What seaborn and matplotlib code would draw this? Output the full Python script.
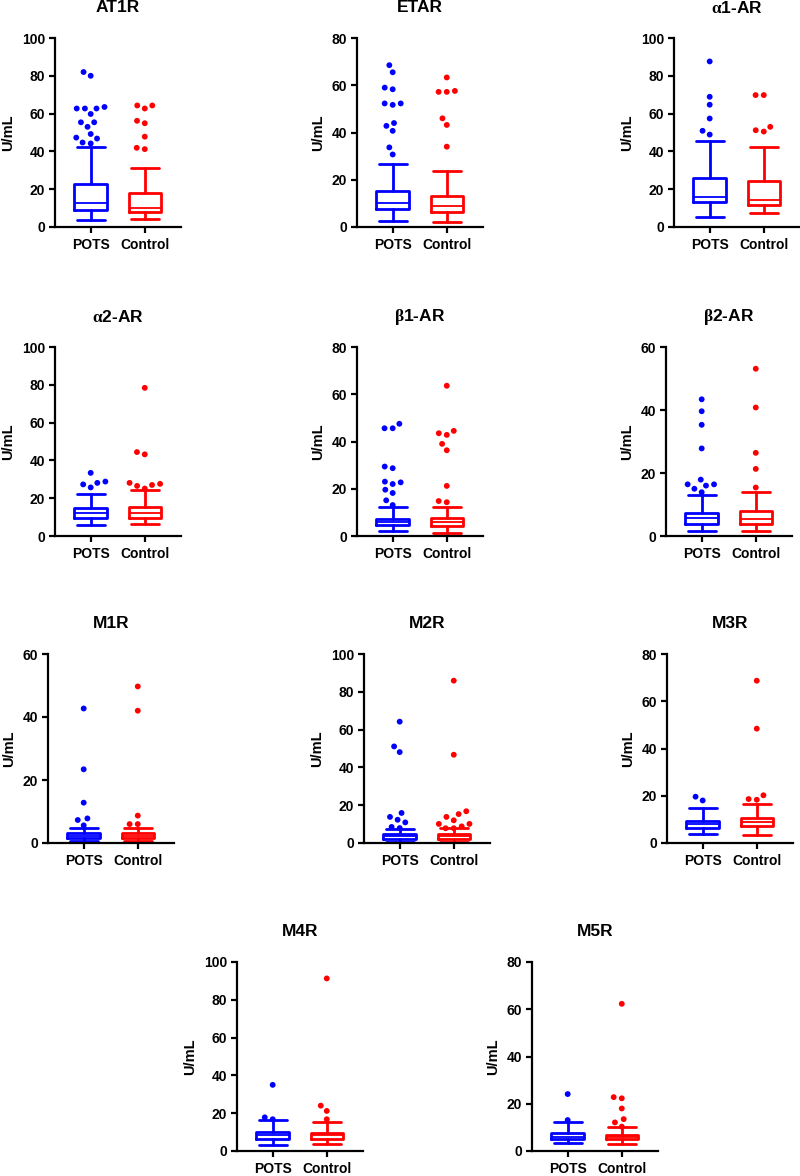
import numpy as np
import pandas as pd
import matplotlib
matplotlib.use("Agg")
import matplotlib.pyplot as plt
import seaborn as sns

sns.set_style("ticks")
plt.rcParams["font.family"] = ["Liberation Sans", "DejaVu Sans"]
plt.rcParams["font.weight"] = "bold"
plt.rcParams["axes.labelweight"] = "bold"
for k in ["text.color", "axes.labelcolor", "xtick.color", "ytick.color", "axes.edgecolor"]:
    plt.rcParams[k] = "black"
plt.rcParams["mathtext.fontset"] = "custom"
plt.rcParams["mathtext.rm"] = "Liberation Serif"

GROUPS = ["POTS", "Control"]
COLORS = {"POTS": "#0000FF", "Control": "#FF0000"}

# box stats: [whisker low, Q1, median, Q3, whisker high]
AT1R_POTS_box = [3.5, 9.2, 12.9, 22.5, 42.5]
AT1R_POTS_out = [82.0, 80.0, 63.5, 62.7, 62.7, 62.7, 59.8, 55.4, 55.4, 53.0, 49.2, 47.3, 46.8, 44.7, 44.2]
AT1R_CTRL_box = [4.1, 8.0, 10.3, 18.2, 31.3]
AT1R_CTRL_out = [64.3, 62.7, 64.3, 56.2, 54.9, 47.8, 41.2, 41.9]

ETAR_POTS_box = [2.5, 7.8, 10.0, 15.3, 26.5]
ETAR_POTS_out = [68.5, 65.5, 59.0, 58.3, 52.3, 52.3, 51.7, 44.0, 42.8, 40.7, 33.7, 30.7]
ETAR_CTRL_box = [2.1, 6.4, 8.9, 13.0, 23.8]
ETAR_CTRL_out = [63.3, 57.6, 57.2, 57.2, 46.0, 43.2, 34.0]

A1AR_POTS_box = [5.3, 13.2, 16.1, 25.8, 45.6]
A1AR_POTS_out = [87.6, 68.9, 64.7, 57.4, 48.9, 50.9]
A1AR_CTRL_box = [7.2, 11.5, 14.1, 24.2, 42.2]
A1AR_CTRL_out = [69.8, 69.8, 50.5, 53.0, 51.2]

A2AR_POTS_box = [5.6, 9.5, 12.1, 14.7, 22.3]
A2AR_POTS_out = [25.7, 28.8, 33.4, 27.3, 28.1]
A2AR_CTRL_box = [6.5, 9.5, 12.3, 15.3, 24.6]
A2AR_CTRL_out = [78.4, 44.4, 43.2, 26.5, 28.1, 27.0, 27.6, 25.1]

B1AR_POTS_box = [2.0, 4.5, 5.9, 7.3, 12.3]
B1AR_POTS_out = [47.5, 45.6, 45.6, 28.7, 29.4, 23.0, 22.0, 22.7, 18.2, 19.6, 15.1, 13.1]
B1AR_CTRL_box = [1.3, 4.1, 5.9, 7.6, 12.3]
B1AR_CTRL_out = [63.6, 44.5, 42.8, 43.5, 39.0, 36.3, 21.2, 14.3, 14.8]

B2AR_POTS_box = [1.7, 3.9, 5.7, 7.4, 12.9]
B2AR_POTS_out = [43.4, 39.6, 35.3, 27.8, 17.9, 16.4, 16.0, 16.4, 15.0, 13.9]
B2AR_CTRL_box = [1.7, 3.7, 5.3, 7.8, 14.0]
B2AR_CTRL_out = [53.1, 40.8, 26.4, 21.3, 15.4]

M1R_POTS_box = [0.7, 1.5, 2.2, 3.2, 4.8]
M1R_POTS_out = [42.7, 23.4, 12.8, 7.8, 7.3, 5.6]
M1R_CTRL_box = [0.5, 1.5, 2.3, 3.2, 4.9]
M1R_CTRL_out = [49.7, 42.0, 8.7, 6.0, 6.0]

M2R_POTS_box = [0.7, 2.1, 3.5, 4.9, 7.4]
M2R_POTS_out = [64.2, 51.1, 48.1, 13.8, 10.9, 15.9, 12.3, 7.9, 8.5]
M2R_CTRL_box = [0.7, 2.1, 3.5, 4.9, 7.8]
M2R_CTRL_out = [85.9, 46.7, 16.8, 15.3, 13.8, 12.0, 10.1, 10.1, 7.8, 8.8, 7.8]

M3R_POTS_box = [3.9, 6.2, 8.0, 9.4, 15.0]
M3R_POTS_out = [18.0, 19.6]
M3R_CTRL_box = [3.4, 7.1, 8.9, 10.6, 16.4]
M3R_CTRL_out = [68.7, 48.4, 20.2, 18.3, 18.6]

M4R_POTS_box = [3.4, 6.2, 8.5, 9.9, 16.6]
M4R_POTS_out = [35.0, 16.8, 17.8]
M4R_CTRL_box = [3.5, 6.5, 8.5, 9.7, 15.4]
M4R_CTRL_out = [91.3, 24.0, 21.2, 16.8]

M5R_POTS_box = [3.2, 5.1, 6.0, 7.7, 12.3]
M5R_POTS_out = [24.1, 13.1]
M5R_CTRL_box = [3.0, 4.9, 6.1, 6.9, 10.0]
M5R_CTRL_out = [62.3, 22.8, 22.3, 18.0, 13.5, 12.1, 10.3]

TITLES = ["AT1R", "ETAR", r"$\mathrm{α}$1-AR", r"$\mathrm{α}$2-AR",
          r"$\mathrm{β}$1-AR", r"$\mathrm{β}$2-AR",
          "M1R", "M2R", "M3R", "M4R", "M5R"]
YMAX = [100, 80, 100, 100, 80, 60, 60, 100, 80, 100, 80]
DATA = [
    (AT1R_POTS_box, AT1R_POTS_out, AT1R_CTRL_box, AT1R_CTRL_out),
    (ETAR_POTS_box, ETAR_POTS_out, ETAR_CTRL_box, ETAR_CTRL_out),
    (A1AR_POTS_box, A1AR_POTS_out, A1AR_CTRL_box, A1AR_CTRL_out),
    (A2AR_POTS_box, A2AR_POTS_out, A2AR_CTRL_box, A2AR_CTRL_out),
    (B1AR_POTS_box, B1AR_POTS_out, B1AR_CTRL_box, B1AR_CTRL_out),
    (B2AR_POTS_box, B2AR_POTS_out, B2AR_CTRL_box, B2AR_CTRL_out),
    (M1R_POTS_box, M1R_POTS_out, M1R_CTRL_box, M1R_CTRL_out),
    (M2R_POTS_box, M2R_POTS_out, M2R_CTRL_box, M2R_CTRL_out),
    (M3R_POTS_box, M3R_POTS_out, M3R_CTRL_box, M3R_CTRL_out),
    (M4R_POTS_box, M4R_POTS_out, M4R_CTRL_box, M4R_CTRL_out),
    (M5R_POTS_box, M5R_POTS_out, M5R_CTRL_box, M5R_CTRL_out),
]

# layout (pixels): left edge of axes, top edge of axes
W, H = 800, 1176
AX_W, AX_H = 126, 189
POS = [(55, 38), (357, 38), (674, 38),
       (55, 347), (357, 347), (666, 347),
       (48, 654), (364, 654), (667, 654),
       (237, 962), (532, 962)]

fig = plt.figure(figsize=(W / 100, H / 100), dpi=100)

for title, ymax, (pb, po, cb, co), (lx, ty) in zip(TITLES, YMAX, DATA, POS):
    ax = fig.add_axes([lx / W, 1 - (ty + AX_H) / H, AX_W / W, AX_H / H])
    df = pd.DataFrame({"group": ["POTS"] * len(po) + ["Control"] * len(co),
                       "value": po + co})
    sns.swarmplot(data=df, x="group", y="value", hue="group", palette=COLORS,
                  order=GROUPS, hue_order=GROUPS, size=4.2, linewidth=1.4,
                  edgecolor="none", legend=False, ax=ax, zorder=3)
    for i, (g, b) in enumerate(zip(GROUPS, [pb, cb])):
        c = COLORS[g]
        stats = [dict(whislo=b[0], q1=b[1], med=b[2], q3=b[3], whishi=b[4], fliers=[])]
        ax.bxp(stats, positions=[i], widths=0.6, capwidths=0.52, showfliers=False,
               boxprops=dict(color=c, lw=2.0),
               whiskerprops=dict(color=c, lw=2.0),
               capprops=dict(color=c, lw=2.0),
               medianprops=dict(color=c, lw=1.3),
               manage_ticks=False)
    ax.set_xlim(-0.66, 1.67)
    ax.set_ylim(0, ymax)
    ax.set_yticks(np.arange(0, ymax + 1, 20))
    ax.set_xticks([0, 1])
    ax.set_xticklabels(GROUPS)
    sns.despine(ax=ax)
    for s in ["left", "bottom"]:
        ax.spines[s].set_linewidth(1.6)
        ax.spines[s].set_color("black")
    ax.tick_params(axis="both", direction="out", length=4.5, width=1.6,
                   labelsize=10, pad=2.5, colors="black")
    ax.tick_params(axis="x", pad=3.5)
    for lab in ax.get_xticklabels() + ax.get_yticklabels():
        lab.set_fontweight("bold")
    ax.set_xlabel("")
    ax.set_ylabel("U/mL", fontsize=10.5, fontweight="bold", labelpad=5, color="black")
    ax.text(0.5, 1 + 30 / AX_H, title, transform=ax.transAxes, ha="center",
            va="center", fontsize=12.5, fontweight="bold", color="black")

fig.savefig("out.png", dpi=100)
